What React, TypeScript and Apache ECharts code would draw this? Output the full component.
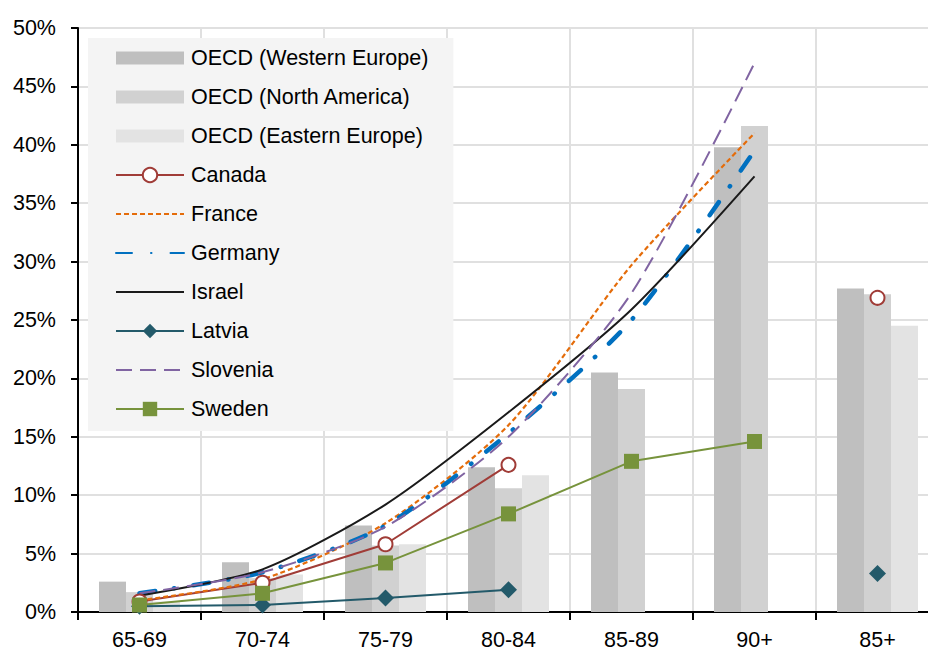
import React, { useEffect, useRef } from "react";
import * as echarts from "echarts";

const categories = ["65-69", "70-74", "75-79", "80-84", "85-89", "90+", "85+"];
const oecdWesternEurope = [2.6, 4.25, 7.4, 12.4, 20.5, 39.8, 27.7];
const oecdNorthAmerica = [1.7, 2.9, 5.7, 10.6, 19.1, 41.6, 27.2];
const oecdEasternEurope = [0.9, 3.2, 5.8, 11.7, null, null, 24.5];
const canada = [0.9, 2.5, 5.8, 12.6, null, null, 26.9];
const france = [1.0, 2.8, 7.6, 16.0, 29.7, 41.0, null];
const germany = [1.6, 3.4, 7.4, 15.3, 25.0, 39.5, null];
const israel = [1.4, 3.65, 9.2, 17.1, 25.9, 37.3, null];
const latvia = [0.5, 0.6, 1.2, 1.9, null, null, 3.3];
const slovenia = [1.6, 3.4, 7.3, 15.0, 27.3, 47.0, null];
const sweden = [0.6, 1.6, 4.2, 8.4, 12.9, 14.6, null];
const yTicks = { min: 0, max: 50, interval: 5 };

const FONT = "'Liberation Sans', Arial, sans-serif";
const FS = 21.5;
const barIcon = "path://M0,0h68v13h-68z";

export default function App() {
  const ref = useRef<HTMLDivElement>(null);
  useEffect(() => {
    if (!ref.current) return;
    const chart = echarts.init(ref.current, null, { renderer: "svg" });
    const bar = (name: string, data: any[], color: string) => ({
      name,
      type: "bar",
      data,
      barWidth: 27,
      barGap: "0%",
      itemStyle: { color },
      z: 1,
    });
    const line = (name: string, data: any[], color: string, extra: any) => ({
      name,
      type: "line",
      data,
      connectNulls: false,
      z: 3,
      ...extra,
      lineStyle: { color, width: 2, ...(extra.lineStyle || {}) },
      itemStyle: { color, ...(extra.itemStyle || {}) },
    });
    const noSym = { itemStyle: { opacity: 0 } };
    chart.setOption({
      animation: false,
      textStyle: { fontFamily: FONT },
      grid: { left: 78, top: 28, width: 861, height: 584, containLabel: false },
      legend: {
        orient: "vertical",
        left: 88,
        top: 38,
        padding: [6, 25, 8, 27],
        backgroundColor: "#f4f4f4",
        itemWidth: 68,
        itemHeight: 18,
        itemGap: 11,
        textStyle: { fontFamily: FONT, fontSize: FS, color: "#000", lineHeight: 28, padding: [0, 0, 0, 2] },
        data: [
          { name: "OECD (Western Europe)", icon: barIcon },
          { name: "OECD (North America)", icon: barIcon },
          { name: "OECD (Eastern Europe)", icon: barIcon },
          { name: "Canada" },
          { name: "France", ...noSym },
          { name: "Germany", ...noSym },
          { name: "Israel", ...noSym },
          { name: "Latvia" },
          { name: "Slovenia", ...noSym },
          { name: "Sweden" },
        ],
      },
      xAxis: {
        type: "category",
        data: categories,
        boundaryGap: true,
        axisLine: { lineStyle: { color: "#000", width: 2 } },
        axisTick: { show: true, length: 8, lineStyle: { color: "#000", width: 2 } },
        axisLabel: { color: "#000", fontSize: FS, fontFamily: FONT, margin: 17 },
        splitLine: { show: true, lineStyle: { color: "#e0e0e0", width: 2 } },
      },
      yAxis: {
        type: "value",
        min: yTicks.min,
        max: yTicks.max,
        interval: yTicks.interval,
        axisLine: { show: true, lineStyle: { color: "#000", width: 2 } },
        axisTick: { show: true, length: 7, lineStyle: { color: "#000", width: 2 } },
        axisLabel: { color: "#000", fontSize: FS, fontFamily: FONT, margin: 22, formatter: "{value}%" },
        splitLine: { show: true, lineStyle: { color: "#e0e0e0", width: 2 } },
      },
      series: [
        bar("OECD (Western Europe)", oecdWesternEurope, "#bfbfbf"),
        bar("OECD (North America)", oecdNorthAmerica, "#d1d1d1"),
        bar("OECD (Eastern Europe)", oecdEasternEurope, "#e3e3e3"),
        line("Canada", canada, "#a03c37", {
          symbol: "circle",
          symbolSize: 14,
          showAllSymbol: true,
          itemStyle: { color: "#ffffff", borderColor: "#a03c37", borderWidth: 2 },
        }),
        line("France", france, "#e46c0a", {
          symbol: "none",
          smooth: 0.25,
          lineStyle: { width: 2.2, type: [5, 3] },
        }),
        line("Germany", germany, "#0070c0", {
          symbol: "none",
          smooth: 0.25,
          lineStyle: { width: 4.5, type: [16, 19, 0.5, 19], cap: "round" },
        }),
        line("Israel", israel, "#1a1a1a", { symbol: "none", smooth: 0.25 }),
        line("Latvia", latvia, "#235a6a", {
          symbol: "diamond",
          symbolSize: [17, 17],
          showAllSymbol: true,
        }),
        line("Slovenia", slovenia, "#8064a2", {
          symbol: "none",
          smooth: 0.25,
          lineStyle: { type: [16, 8] },
        }),
        line("Sweden", sweden, "#77933c", {
          symbol: "rect",
          symbolSize: 15,
          showAllSymbol: true,
        }),
      ],
    });
    return () => chart.dispose();
  }, []);
  return (
    <div
      ref={ref}
      style={{ position: "fixed", left: 0, top: 0, width: 940, height: 654, background: "#fff" }}
    />
  );
}
